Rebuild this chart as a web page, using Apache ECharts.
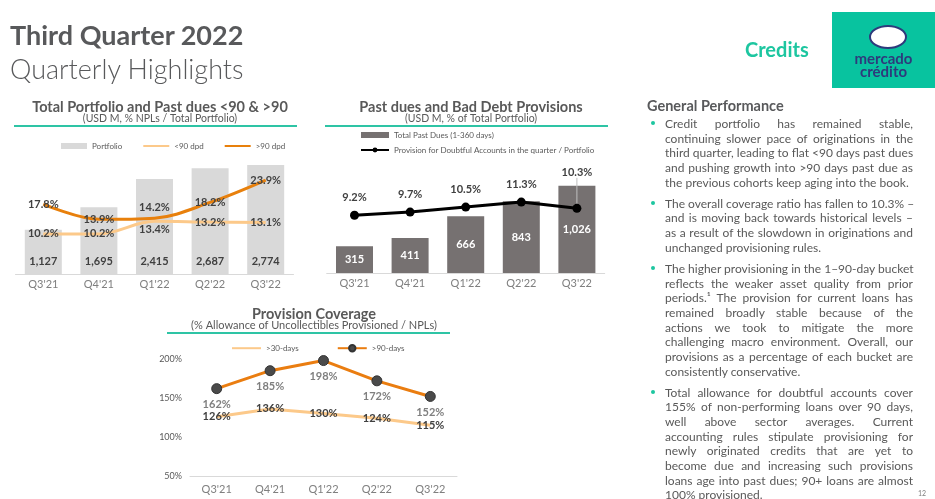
<!DOCTYPE html>
<html><head><meta charset="utf-8">
<script src="https://cdn.jsdelivr.net/npm/echarts@6/dist/echarts.min.js"></script>
<style>
html,body{margin:0;padding:0;background:#fff;}
#wrap{position:relative;width:935px;height:499px;overflow:hidden;font-family:Lato,"Noto Sans",sans-serif;color:#595959;}
#chart{position:absolute;left:0;top:0;width:935px;height:499px;}
.ov{position:absolute;pointer-events:none;}
#h1{left:10px;top:18px;font-size:27px;font-weight:700;color:#58595b;white-space:nowrap;}
#h2{left:10px;top:52px;font-size:27px;font-weight:300;color:#58595b;white-space:nowrap;}
#credits{left:745px;top:37px;font-size:20px;font-weight:700;color:#1dc6a0;}
#logo{left:832px;top:12px;width:103px;height:76px;background:#08c39f;}
#logo .ell{position:absolute;left:37px;top:13px;width:34px;height:20px;border:2px solid #2e3a7c;border-radius:50%;background:#fff;}
#logo .t{position:absolute;left:0;width:103px;text-align:center;font-size:15px;font-weight:700;color:#2e3a7c;line-height:13px;}
#gp{left:647px;top:97px;width:268px;}
#gp h3{margin:0 0 3px 0;font-size:14.5px;font-weight:700;color:#58595b;}
#gp .b{position:relative;padding-left:18px;font-size:12px;line-height:14.65px;margin-bottom:6.5px;color:#595959;width:248px;}
#gp .b span{display:block;white-space:nowrap;text-align:justify;text-align-last:justify;}
#gp .b span.l{text-align:left;text-align-last:left;}
#gp .b:before{content:"";position:absolute;left:4px;top:4px;width:4px;height:4px;border-radius:50%;background:#1dc6a0;}
#pg{left:918px;top:489px;font-size:7px;color:#7f7f7f;}
</style></head>
<body><div id="wrap">
<div id="chart"></div>
<div class="ov" id="h1">Third Quarter 2022</div>
<div class="ov" id="h2">Quarterly Highlights</div>
<div class="ov" id="credits">Credits</div>
<div class="ov" id="logo"><div class="ell"></div><div class="t" style="top:40px">mercado</div><div class="t" style="top:53px">crédito</div></div>
<div class="ov" id="gp"><h3>General Performance</h3>
<div class="b"><span>Credit portfolio has remained stable,</span><span>continuing slower pace of originations in the</span><span>third quarter, leading to flat &lt;90 days past dues</span><span>and pushing growth into &gt;90 days past due as</span><span class="l">the previous cohorts keep aging into the book.</span></div>
<div class="b"><span>The overall coverage ratio has fallen to 10.3% –</span><span>and is moving back towards historical levels –</span><span>as a result of the slowdown in originations and</span><span class="l">unchanged provisioning rules.</span></div>
<div class="b"><span>The higher provisioning in the 1–90-day bucket</span><span>reflects the weaker asset quality from prior</span><span>periods.¹ The provision for current loans has</span><span>remained broadly stable because of the</span><span>actions we took to mitigate the more</span><span>challenging macro environment. Overall, our</span><span>provisions as a percentage of each bucket are</span><span class="l">consistently conservative.</span></div>
<div class="b"><span>Total allowance for doubtful accounts cover</span><span>155% of non-performing loans over 90 days,</span><span>well above sector averages. Current</span><span>accounting rules stipulate provisioning for</span><span>newly originated credits that are yet to</span><span>become due and increasing such provisions</span><span>loans age into past dues; 90+ loans are almost</span><span class="l">100% provisioned.</span></div>
</div>
<div class="ov" id="pg">12</div>
</div>
<script>
const categories = ["Q3'21", "Q4'21", "Q1'22", "Q2'22", "Q3'22"];
const portfolio = [1127, 1695, 2415, 2687, 2774];
const dpdUnder90 = [10.2, 10.2, 13.4, 13.2, 13.1];
const dpdOver90 = [17.8, 13.9, 14.2, 18.2, 23.9];
const pastDues = [315, 411, 666, 843, 1026];
const provisionRatio = [9.2, 9.7, 10.5, 11.3, 10.3];
const coverage30 = [126, 136, 130, 124, 115];
const coverage90 = [162, 185, 198, 172, 152];

const under90Pos = ['inside', 'inside', 'bottom', 'inside', 'inside'];
const over90Pos = ['inside', 'inside', 'top', 'inside', 'inside'];

const fmtThousands = v => String(v).replace(/\B(?=(\d{3})+(?!\d))/g, ',');
const dark = '#404040';
const teal = '#2ec4a5';

const chart = echarts.init(document.getElementById('chart'), null, {renderer: 'canvas'});

const xBase = {
  type: 'category', data: categories,
  axisLine: {lineStyle: {color: '#d9d9d9', width: 1}},
  axisTick: {show: false},
  axisLabel: {color: '#7f7f7f', fontSize: 11, margin: 5}
};
const titleStyle = {fontSize: 14.5, fontWeight: 'bold', color: '#595959'};
const subStyle = {fontSize: 10.5, color: '#595959'};
const noDot = {opacity: 0};

const option = {
  animation: false,
  textStyle: {fontFamily: 'Lato'},
  title: [
    {text: 'Total Portfolio and Past dues <90 & >90', subtext: '(USD M, % NPLs / Total Portfolio)', left: 155, top: 95, textAlign: 'center', itemGap: -2,
      textStyle: titleStyle, subtextStyle: subStyle},
    {text: 'Past dues and Bad Debt Provisions', subtext: '(USD M, % of Total Portfolio)', left: 466, top: 95, textAlign: 'center', itemGap: -2,
      textStyle: titleStyle, subtextStyle: subStyle},
    {text: 'Provision Coverage', subtext: '(% Allowance of Uncollectibles Provisioned / NPLs)', left: 309, top: 302, textAlign: 'center', itemGap: -2,
      textStyle: titleStyle, subtextStyle: {fontSize: 11, color: '#595959'}}
  ],
  graphic: [
    {type: 'line', shape: {x1: 14, y1: 126, x2: 297, y2: 126}, style: {stroke: teal, lineWidth: 2}},
    {type: 'line', shape: {x1: 325, y1: 126, x2: 608, y2: 126}, style: {stroke: teal, lineWidth: 2}},
    {type: 'line', shape: {x1: 167, y1: 333, x2: 450, y2: 333}, style: {stroke: teal, lineWidth: 2}}
  ],
  legend: [
    {data: [{name: 'Portfolio', icon: 'rect'}, {name: '<90 dpd', itemStyle: noDot}, {name: '>90 dpd', itemStyle: noDot}], left: 56, top: 137, itemWidth: 26, itemHeight: 6, itemGap: 20,
      textStyle: {fontSize: 8, color: '#595959'}},
    {data: [{name: 'Total Past Dues (1-360 days)', icon: 'rect'}, 'Provision for Doubtful Accounts in the quarter / Portfolio'], orient: 'vertical',
      left: 355, top: 126, itemWidth: 28, itemHeight: 6, itemGap: 7, textStyle: {fontSize: 8, color: '#595959'}},
    {data: [{name: '>30-days', itemStyle: noDot}, '>90-days'], left: 226, top: 339, itemWidth: 29, itemHeight: 8, itemGap: 38, textStyle: {fontSize: 8, color: '#595959'}}
  ],
  grid: [
    {left: 15.5, width: 278, top: 160, height: 114},
    {left: 326.7, width: 278, top: 160, height: 113},
    {left: 190, width: 267, top: 359, height: 117}
  ],
  xAxis: [
    Object.assign({gridIndex: 0}, xBase),
    Object.assign({gridIndex: 1}, xBase),
    Object.assign({gridIndex: 2}, xBase, {axisLabel: {color: '#7f7f7f', fontSize: 11, margin: 8}})
  ],
  yAxis: [
    {gridIndex: 0, type: 'value', min: 0, max: 2900, show: false},
    {gridIndex: 0, type: 'value', min: 0, max: 29, show: false},
    {gridIndex: 1, type: 'value', min: 0, max: 1328, show: false},
    {gridIndex: 1, type: 'value', min: 0, max: 18, show: false},
    {gridIndex: 2, type: 'value', min: 50, max: 200, interval: 50, splitLine: {show: false}, axisLine: {show: false}, axisTick: {show: false},
      axisLabel: {formatter: '{value}%', color: '#595959', fontSize: 9, margin: 8}}
  ],
  series: [
    {name: 'Portfolio', type: 'bar', xAxisIndex: 0, yAxisIndex: 0, data: portfolio, barWidth: 37,
      itemStyle: {color: '#d9d9d9'},
      label: {show: true, position: 'insideBottom', distance: 7, formatter: p => fmtThousands(p.value), color: dark, fontWeight: 'bold', fontSize: 11}},
    {name: '<90 dpd', type: 'line', xAxisIndex: 0, yAxisIndex: 1, smooth: 0.35, symbol: 'circle', symbolSize: 0.1,
      lineStyle: {color: '#fcc98a', width: 3}, itemStyle: {color: '#fcc98a'},
      data: dpdUnder90.map((v, i) => ({value: v, label: {position: under90Pos[i]}})),
      label: {show: true, formatter: '{c}%', color: dark, fontWeight: 'bold', fontSize: 11, distance: 3}},
    {name: '>90 dpd', type: 'line', xAxisIndex: 0, yAxisIndex: 1, smooth: 0.35, symbol: 'circle', symbolSize: 0.1,
      lineStyle: {color: '#e8800c', width: 3}, itemStyle: {color: '#e8800c'},
      data: dpdOver90.map((v, i) => ({value: v, label: {position: over90Pos[i]}})),
      label: {show: true, formatter: '{c}%', color: dark, fontWeight: 'bold', fontSize: 11, distance: 5}},
    {name: 'Total Past Dues (1-360 days)', type: 'bar', xAxisIndex: 1, yAxisIndex: 2, data: pastDues, barWidth: 37,
      itemStyle: {color: '#767171'},
      label: {show: true, position: 'inside', formatter: p => fmtThousands(p.value), color: '#fff', fontWeight: 'bold', fontSize: 11}},
    {name: 'Provision for Doubtful Accounts in the quarter / Portfolio', type: 'line', xAxisIndex: 1, yAxisIndex: 3,
      symbol: 'circle', symbolSize: 9, lineStyle: {color: '#000', width: 3}, itemStyle: {color: '#000'},
      data: provisionRatio.map((v, i) => i === 4 ? {value: v, labelLine: {show: true}} : v),
      labelLayout: p => p.dataIndex === 4 ? {dy: -18} : {},
      labelLine: {show: false, lineStyle: {color: '#bfbfbf', width: 1}},
      label: {show: true, position: 'top', distance: 8, formatter: '{c}%', color: dark, fontWeight: 'bold', fontSize: 11}},
    {name: '>30-days', type: 'line', xAxisIndex: 2, yAxisIndex: 4, symbol: 'circle', symbolSize: 0.1,
      lineStyle: {color: '#fcc98a', width: 3}, itemStyle: {color: '#fcc98a'}, data: coverage30,
      label: {show: true, position: 'inside', formatter: '{c}%', color: dark, fontWeight: 'bold', fontSize: 11}},
    {name: '>90-days', type: 'line', xAxisIndex: 2, yAxisIndex: 4, symbol: 'circle', symbolSize: 10,
      lineStyle: {color: '#ea7d10', width: 3}, itemStyle: {color: '#4a4a4a', borderColor: '#333', borderWidth: 1}, data: coverage90,
      label: {show: true, position: 'bottom', distance: 5, formatter: '{c}%', color: '#7f7f7f', fontWeight: 'bold', fontSize: 11}}
  ]
};
chart.setOption(option);
</script>
</body></html>
